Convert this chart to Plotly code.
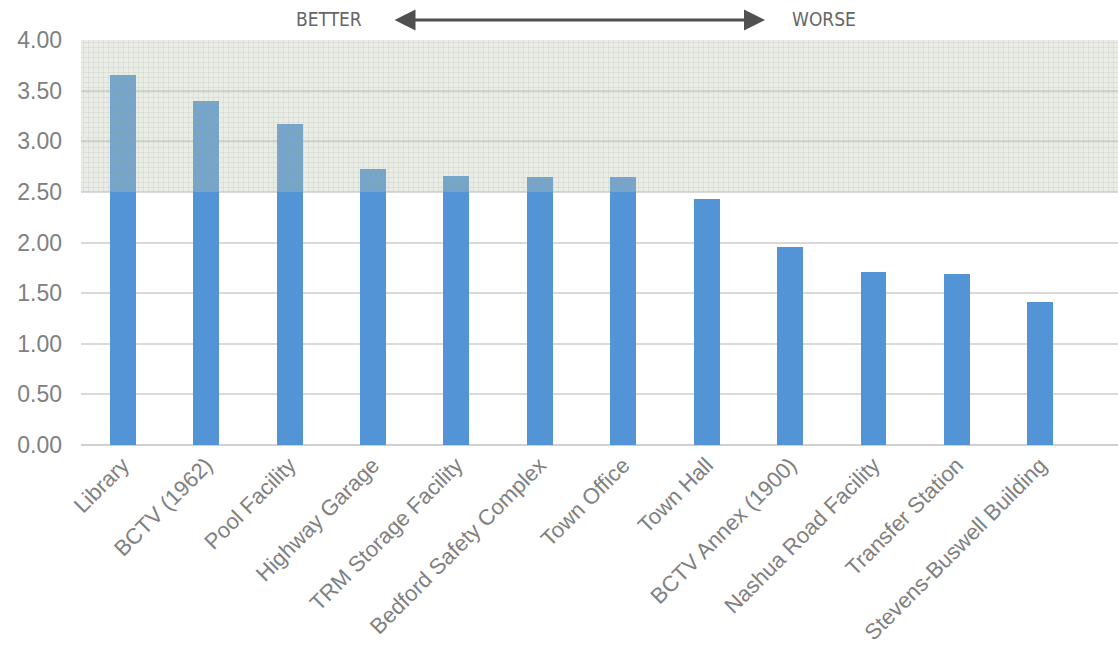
import plotly.graph_objects as go

# Facility condition scores (higher = worse)
facilities = [
    "Library", "BCTV (1962)", "Pool Facility", "Highway Garage",
    "TRM Storage Facility", "Bedford Safety Complex", "Town Office",
    "Town Hall", "BCTV Annex (1900)", "Nashua Road Facility",
    "Transfer Station", "Stevens-Buswell Building",
]
scores = [3.65, 3.40, 3.17, 2.73, 2.66, 2.65, 2.65, 2.43, 1.96, 1.71, 1.69, 1.41]

# Threshold zone drawn as a hatched band
zone_low, zone_high = 2.5, 4.0
y_ticks = [0, 0.5, 1.0, 1.5, 2.0, 2.5, 3.0, 3.5, 4.0]

x_lo, x_hi = -0.5, 11.93

fig = go.Figure()

fig.add_trace(go.Bar(
    x=list(range(len(facilities))),
    y=scores,
    width=0.31,
    marker=dict(color="#5294d6", line=dict(width=0)),
    hoverinfo="x+y",
))

fig.add_trace(go.Scatter(
    x=[x_lo, x_hi, x_hi, x_lo, x_lo],
    y=[zone_low, zone_low, zone_high, zone_high, zone_low],
    mode="lines",
    line=dict(width=0),
    fill="toself",
    fillcolor="rgba(188,200,180,0.33)",
    fillpattern=dict(
        shape="+",
        size=5,
        solidity=0.16,
        fgcolor="rgb(155,162,150)",
        fgopacity=0.4,
        bgcolor="rgba(188,200,180,0.33)",
    ),
    hoverinfo="skip",
    showlegend=False,
))

label_font = dict(family="DejaVu Sans Condensed, Liberation Sans Narrow, Arial", size=19, color="#666666")

fig.add_annotation(
    xref="paper", yref="paper",
    x=(765 - 81) / 1037, y=1.0 + 20 / 405,
    axref="pixel", ayref="pixel",
    ax=-(765 - 393), ay=0,
    text="", showarrow=True,
    arrowhead=2, startarrowhead=2, arrowside="end+start",
    arrowsize=1.4, startarrowsize=1.4,
    arrowwidth=3, arrowcolor="#505050",
)
fig.add_annotation(
    xref="paper", yref="paper",
    x=(329 - 81) / 1037, y=1.0 + 21 / 405,
    xanchor="center", yanchor="middle",
    text="BETTER", showarrow=False, font=label_font,
)
fig.add_annotation(
    xref="paper", yref="paper",
    x=(824 - 81) / 1037, y=1.0 + 21 / 405,
    xanchor="center", yanchor="middle",
    text="WORSE", showarrow=False, font=label_font,
)

fig.update_layout(
    width=1118, height=659,
    margin=dict(l=81, r=0, t=40, b=214),
    paper_bgcolor="white",
    plot_bgcolor="white",
    showlegend=False,
    bargap=0,
    xaxis=dict(
        range=[x_lo, x_hi],
        tickmode="array",
        tickvals=list(range(len(facilities))),
        ticktext=facilities,
        tickangle=-45,
        tickfont=dict(family="Liberation Sans, Arial", size=22, color="#808080"),
        showgrid=False,
        zeroline=False,
        showline=False,
        ticks="",
        ticklabelstandoff=2,
    ),
    yaxis=dict(
        range=[0, 4.0],
        tickmode="array",
        tickvals=y_ticks,
        tickformat=".2f",
        tickfont=dict(family="Liberation Sans, Arial", size=23, color="#808080"),
        showgrid=True,
        gridcolor="#d9d9d9",
        gridwidth=1.5,
        zeroline=True,
        zerolinecolor="#d0d0d0",
        zerolinewidth=2,
        ticks="",
        ticklabelstandoff=18,
    ),
)

fig.write_html("out.html")
